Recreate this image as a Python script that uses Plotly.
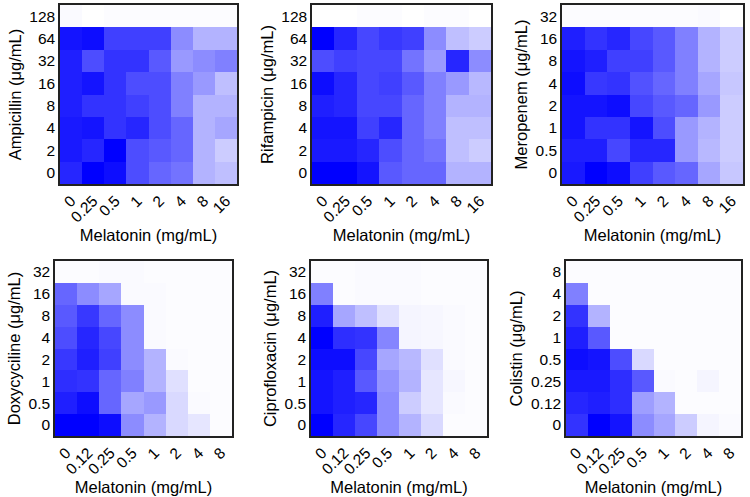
import plotly.graph_objects as go

mel_a = ["0", "0.25", "0.5", "1", "2", "4", "8", "16"]
mel_b = ["0", "0.12", "0.25", "0.5", "1", "2", "4", "8"]

amp_conc = ["0", "2", "4", "8", "16", "32", "64", "128"]
rif_conc = ["0", "2", "4", "8", "16", "32", "64", "128"]
mer_conc = ["0", "0.5", "1", "2", "4", "8", "16", "32"]
dox_conc = ["0", "0.5", "1", "2", "4", "8", "16", "32"]
cip_conc = ["0", "0.5", "1", "2", "4", "8", "16", "32"]
col_conc = ["0", "0.12", "0.25", "0.5", "1", "2", "4", "8"]

# growth intensity (rows bottom -> top, columns left -> right)
amp_vals = [
    [0.85, 1.00, 0.95, 0.70, 0.60, 0.55, 0.30, 0.25],
    [0.90, 0.85, 1.00, 0.70, 0.65, 0.60, 0.30, 0.20],
    [0.90, 0.92, 0.80, 0.85, 0.70, 0.60, 0.30, 0.35],
    [0.88, 0.80, 0.80, 0.75, 0.70, 0.50, 0.30, 0.30],
    [0.88, 0.92, 0.80, 0.70, 0.70, 0.50, 0.40, 0.25],
    [0.88, 0.70, 0.80, 0.80, 0.65, 0.40, 0.45, 0.50],
    [0.92, 0.95, 0.75, 0.75, 0.75, 0.45, 0.30, 0.30],
    [0.02, 0.00, 0.01, 0.01, 0.01, 0.01, 0.01, 0.01],
]
rif_vals = [
    [1.00, 1.00, 0.92, 0.65, 0.60, 0.60, 0.30, 0.30],
    [0.90, 0.90, 0.85, 0.70, 0.60, 0.55, 0.25, 0.20],
    [0.92, 0.92, 0.75, 0.85, 0.60, 0.50, 0.25, 0.25],
    [0.88, 0.85, 0.72, 0.72, 0.60, 0.50, 0.30, 0.30],
    [0.95, 0.85, 0.72, 0.75, 0.65, 0.50, 0.40, 0.28],
    [0.70, 0.75, 0.72, 0.72, 0.55, 0.40, 0.85, 0.45],
    [1.00, 0.85, 0.72, 0.78, 0.75, 0.45, 0.25, 0.20],
    [0.00, 0.00, 0.01, 0.01, 0.00, 0.01, 0.01, 0.00],
]
mer_vals = [
    [0.90, 1.00, 0.95, 0.75, 0.65, 0.60, 0.35, 0.22],
    [0.88, 0.88, 0.72, 0.85, 0.85, 0.40, 0.28, 0.20],
    [0.92, 0.80, 0.80, 0.92, 0.70, 0.40, 0.30, 0.20],
    [0.92, 0.92, 0.95, 0.72, 0.65, 0.60, 0.40, 0.20],
    [0.95, 0.78, 0.80, 0.68, 0.60, 0.50, 0.35, 0.22],
    [0.92, 0.88, 0.75, 0.75, 0.65, 0.50, 0.30, 0.20],
    [0.88, 0.80, 0.85, 0.72, 0.65, 0.50, 0.30, 0.20],
    [0.01, 0.01, 0.01, 0.01, 0.01, 0.01, 0.02, 0.00],
]
dox_vals = [
    [1.00, 1.00, 0.95, 0.45, 0.30, 0.15, 0.10, 0.01],
    [0.88, 0.95, 0.60, 0.35, 0.40, 0.15, 0.02, 0.01],
    [0.82, 0.80, 0.60, 0.50, 0.30, 0.12, 0.01, 0.01],
    [0.78, 0.88, 0.75, 0.45, 0.30, 0.02, 0.01, 0.01],
    [0.70, 0.85, 0.72, 0.45, 0.02, 0.01, 0.01, 0.01],
    [0.65, 0.78, 0.60, 0.45, 0.02, 0.01, 0.01, 0.01],
    [0.60, 0.45, 0.35, 0.02, 0.02, 0.01, 0.01, 0.01],
    [0.01, 0.01, 0.02, 0.02, 0.01, 0.01, 0.01, 0.01],
]
cip_vals = [
    [1.00, 0.85, 0.72, 0.45, 0.30, 0.15, 0.01, 0.01],
    [0.92, 0.88, 0.85, 0.45, 0.20, 0.10, 0.02, 0.01],
    [0.92, 0.88, 0.65, 0.42, 0.30, 0.10, 0.03, 0.01],
    [0.95, 0.95, 0.72, 0.35, 0.28, 0.12, 0.02, 0.01],
    [1.00, 0.82, 0.80, 0.48, 0.04, 0.03, 0.02, 0.01],
    [0.88, 0.35, 0.25, 0.12, 0.04, 0.03, 0.02, 0.01],
    [0.50, 0.01, 0.02, 0.02, 0.02, 0.01, 0.01, 0.01],
    [0.01, 0.01, 0.02, 0.02, 0.02, 0.01, 0.01, 0.01],
]
col_vals = [
    [0.80, 1.00, 0.92, 0.45, 0.35, 0.20, 0.04, 0.02],
    [0.85, 0.88, 0.82, 0.38, 0.30, 0.01, 0.01, 0.01],
    [0.90, 0.90, 0.82, 0.65, 0.02, 0.01, 0.04, 0.01],
    [0.95, 0.92, 0.70, 0.15, 0.01, 0.01, 0.01, 0.01],
    [0.88, 0.65, 0.01, 0.01, 0.01, 0.01, 0.01, 0.01],
    [0.80, 0.30, 0.01, 0.01, 0.01, 0.01, 0.01, 0.01],
    [0.50, 0.01, 0.01, 0.01, 0.01, 0.01, 0.01, 0.01],
    [0.01, 0.01, 0.01, 0.01, 0.01, 0.01, 0.01, 0.01],
]

panels = [
    ("Ampicillin (μg/mL)", mel_a, amp_conc, amp_vals),
    ("Rifampicin (μg/mL)", mel_a, rif_conc, rif_vals),
    ("Meropenem (μg/mL)", mel_a, mer_conc, mer_vals),
    ("Doxycyciline (μg/mL)", mel_b, dox_conc, dox_vals),
    ("Ciprofloxacin (μg/mL)", mel_b, cip_conc, cip_vals),
    ("Colistin (μg/mL)", mel_b, col_conc, col_vals),
]

W, H = 750, 497
# pixel boxes (left, right, top, bottom)
boxes = [
    (60, 237, 5, 184), (312, 491, 5, 184), (562, 743, 5, 184),
    (55, 232, 261, 436), (311, 487, 261, 436), (566, 741, 261, 436),
]

fig = go.Figure()
font = dict(family="Liberation Sans, Arial, sans-serif", size=15, color="black")
layout = dict(
    width=W, height=H, margin=dict(l=0, r=0, t=0, b=0, autoexpand=False),
    paper_bgcolor="white", plot_bgcolor="white", font=font, showlegend=False,
)
for i, (title, xl, yl, vals) in enumerate(panels):
    n = "" if i == 0 else str(i + 1)
    fig.add_trace(go.Heatmap(
        x=xl, y=yl, z=vals, zmin=0, zmax=1,
        colorscale=[[0, "#ffffff"], [1, "#0000ff"]],
        showscale=False, xgap=0, ygap=0,
        xaxis="x" + n, yaxis="y" + n,
    ))
    l, r, t, b = boxes[i]
    layout["xaxis" + n] = dict(
        domain=[l / W, r / W], anchor="y" + n, type="category",
        tickangle=-45, ticks="", showline=True, linecolor="#222", linewidth=1.5,
        mirror=True, tickfont=dict(size=15.5), automargin=False,
        title=dict(text="Melatonin (mg/mL)", font=dict(size=16.5), standoff=4),
    )
    layout["yaxis" + n] = dict(
        domain=[1 - b / H, 1 - t / H], anchor="x" + n, type="category",
        ticks="", showline=True, linecolor="#222", linewidth=1.5,
        mirror=True, tickfont=dict(size=15.5), automargin=False,
        title=dict(text=title, font=dict(size=16.5), standoff=4),
    )
fig.update_layout(**layout)
fig.write_html(
    "out.html",
    config={"displayModeBar": False},
    post_script="document.body.style.margin='0';document.body.style.overflow='hidden';",
)
